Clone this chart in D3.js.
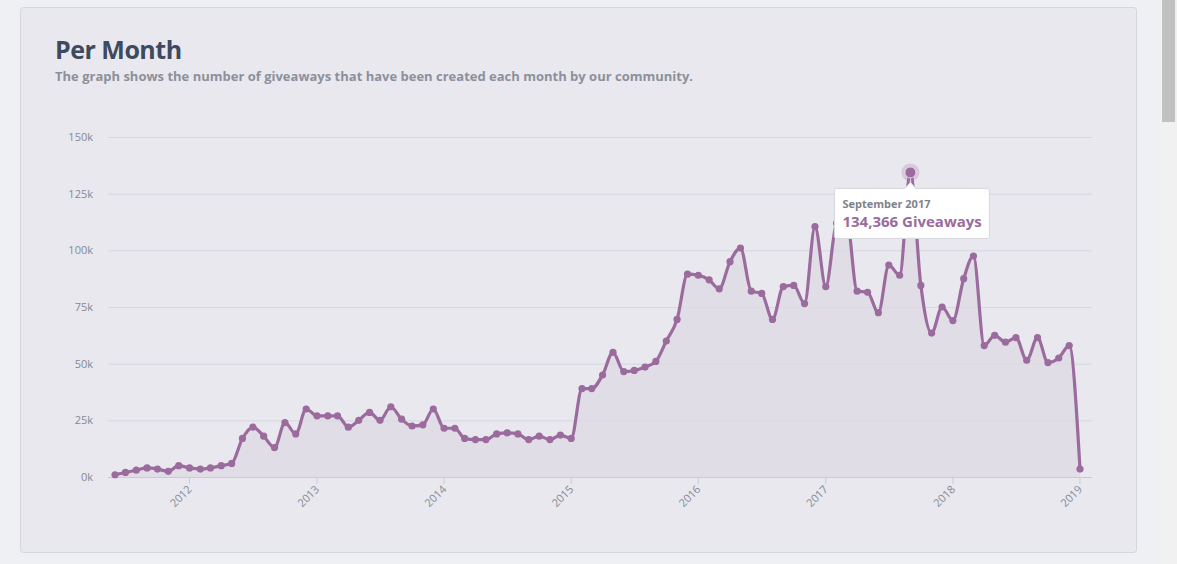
<!DOCTYPE html>
<html><head><meta charset="utf-8">
<script src="https://cdn.jsdelivr.net/npm/d3@7"></script>
<style>
body{margin:0;background:#eef0f4;font-family:"Open Sans",sans-serif;overflow:hidden}
</style></head><body>
<svg id="chart" width="1177" height="564"></svg>
<script>
// monthly giveaways (thousands), June 2011 .. January 2019
const startMonth = [2011, 5];
const values = [
  1, 2, 3, 4, 3.5, 2.5, 5,
  4, 3.5, 4, 5, 6, 17, 22, 18, 13, 24, 19, 30,
  27, 27, 27, 22, 25, 28.5, 25, 31, 25.5, 22.5, 23, 30,
  21.5, 21.5, 17, 16.5, 16.5, 19, 19.5, 19, 16.5, 18, 16.5, 18.5,
  17, 39, 39, 45, 55, 46.5, 47, 48.5, 51, 60, 69.5, 89.5,
  89, 87, 83, 95, 101, 82, 81, 69.5, 84, 84.5, 76.5, 110.5,
  84, 112, 115, 82, 81.5, 72.5, 93.5, 89, 134.366, 84.5, 63.5, 75,
  69, 87.5, 97.5, 58, 62.5, 59.5, 61.5, 51.5, 61.5, 50.5, 52.5, 58,
  3.5
];
const yTicks = [0, 25, 50, 75, 100, 125, 150];
const xTickYears = [2012, 2013, 2014, 2015, 2016, 2017, 2018, 2019];
const highlightIndex = 75;
const monthNames = ["January","February","March","April","May","June","July","August","September","October","November","December"];

const data = values.map((v, i) => ({date: new Date(startMonth[0], startMonth[1] + i, 1), v}));

const svg = d3.select('#chart');
// scrollbar
svg.append('rect').attr('x', 1160).attr('y', 0).attr('width', 17).attr('height', 564).attr('fill', '#f1f1f1');
svg.append('rect').attr('x', 1162).attr('y', 0).attr('width', 13).attr('height', 122).attr('fill', '#c1c1c1');
// card
svg.append('rect').attr('x', 20.5).attr('y', 7.5).attr('width', 1116).attr('height', 545).attr('rx', 3)
  .attr('fill', '#e8e8ee').attr('stroke', '#d6d6de');

svg.append('text').attr('x', 55).attr('y', 59).attr('font-size', 25).attr('font-weight', 700)
  .attr('fill', '#3e4a5e').attr('letter-spacing', -0.5).text('Per Month');
svg.append('text').attr('x', 55).attr('y', 81).attr('font-size', 13).attr('font-weight', 700)
  .attr('fill', '#8c909b').text('The graph shows the number of giveaways that have been created each month by our community.');

const x = d3.scaleTime().domain([data[0].date, data[data.length - 1].date]).range([115, 1080]);
const y = d3.scaleLinear().domain([0, 150]).range([477, 137]);
const left = 108, right = 1092;

// grid
svg.append('g').selectAll('line').data(yTicks).join('line')
  .attr('x1', left).attr('x2', right).attr('y1', d => y(d) + 0.5).attr('y2', d => y(d) + 0.5)
  .attr('stroke', d => d === 0 ? '#c9cbd6' : '#d6d7df');
svg.append('g').selectAll('text').data(yTicks).join('text')
  .attr('x', 93).attr('y', d => y(d) + 4).attr('text-anchor', 'end').attr('font-size', 11)
  .attr('fill', '#858a94').text(d => d + 'k');

// x ticks
const xt = svg.append('g');
xTickYears.forEach(yr => {
  const px = x(new Date(yr, 0, 1));
  xt.append('line').attr('x1', px).attr('x2', px).attr('y1', 477).attr('y2', 484).attr('stroke', '#c9cbd6');
  xt.append('text').attr('transform', `translate(${px + 3},${490}) rotate(-45)`).attr('text-anchor', 'end')
    .attr('font-size', 11).attr('fill', '#858a94').text(yr);
});

const curve = d3.curveMonotoneX;
svg.append('path').datum(data)
  .attr('d', d3.area().x(d => x(d.date)).y0(477).y1(d => y(d.v)).curve(curve))
  .attr('fill', '#ddd9e4').attr('opacity', 0.8);
svg.append('path').datum(data)
  .attr('d', d3.line().x(d => x(d.date)).y(d => y(d.v)).curve(curve))
  .attr('fill', 'none').attr('stroke', '#9b6b9e').attr('stroke-width', 3.2);
svg.append('g').selectAll('circle').data(data).join('circle')
  .attr('cx', d => x(d.date)).attr('cy', d => y(d.v)).attr('r', 3.6).attr('fill', '#9b6b9e');

// highlighted point + tooltip
const h = data[highlightIndex];
const hx = x(h.date), hy = y(h.v);
svg.append('circle').attr('cx', hx).attr('cy', hy).attr('r', 9).attr('fill', '#9b6b9e').attr('opacity', 0.25);
svg.append('circle').attr('cx', hx).attr('cy', hy).attr('r', 5.5).attr('fill', '#9b6b9e').attr('stroke', '#e6d9ea').attr('stroke-width', 1);
const tip = svg.append('g').attr('transform', `translate(${hx - 76},${hy + 16})`);
tip.append('rect').attr('width', 155).attr('height', 50).attr('fill', '#fff').attr('stroke', '#d6d6de').attr('rx', 2);
tip.append('path').attr('d', 'M70,0.5 L76,-6 L82,0.5').attr('fill', '#fff').attr('stroke', '#d6d6de');
tip.append('rect').attr('x', 69).attr('y', 0.5).attr('width', 14).attr('height', 2).attr('fill', '#fff');
tip.append('text').attr('x', 8).attr('y', 20).attr('font-size', 11).attr('font-weight', 700).attr('fill', '#7f828c')
  .text(`${monthNames[h.date.getMonth()]} ${h.date.getFullYear()}`);
tip.append('text').attr('x', 8).attr('y', 39).attr('font-size', 15).attr('font-weight', 700).attr('fill', '#9b6b9e')
  .text(`${d3.format(',')(Math.round(h.v * 1000))} Giveaways`);
</script>
</body></html>
